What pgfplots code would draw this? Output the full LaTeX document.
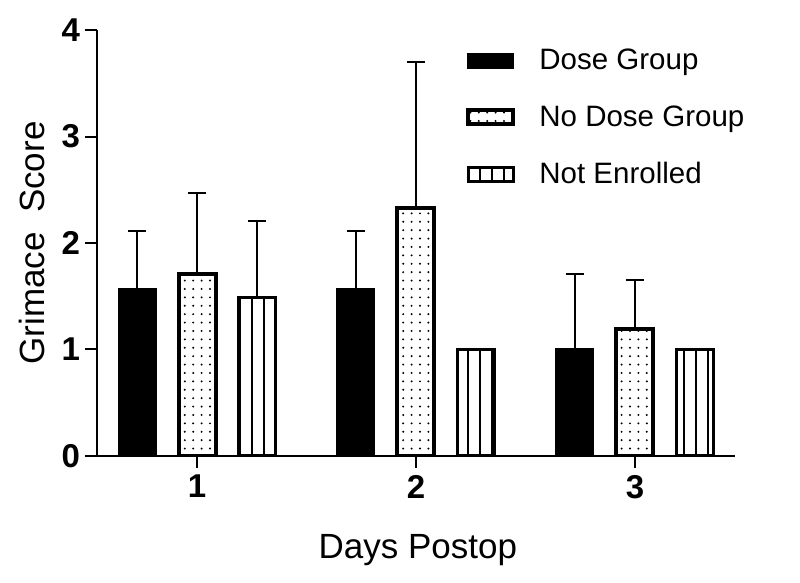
\documentclass[border=0pt]{standalone}
\usepackage{fontspec}
\setmainfont{Liberation Sans}
\usepackage{pgfplots}
\pgfplotsset{compat=1.18}
\usetikzlibrary{patterns.meta}
\begin{document}
\begin{tikzpicture}
\path[use as bounding box] (-48.5pt,-63.5pt) rectangle (351.5pt,228pt);
\begin{axis}[
  at={(0,0)}, anchor=south west,
  scale only axis, width=319pt, height=213pt,
  xmin=0.543, xmax=3.457, ymin=0, ymax=4,
  axis x line=bottom, axis y line=left,
  axis line style={-, line width=1pt},
  xtick={1,2,3}, ytick={0,1,2,3,4},
  tick align=outside, major tick length=6pt,
  tick style={line width=1pt, black},
  /pgf/number format/assume math mode=true,
  tick label style={font=\bfseries\fontsize{16.5}{19}\selectfont},
  yticklabel style={xshift=1pt},
  xlabel={Days Postop}, ylabel={Grimace\ \ Score},
  label style={font=\fontsize{17.5}{20}\selectfont},
  xlabel style={at={(axis description cs:0.503,-0.221)}, anchor=center},
  ylabel style={at={(axis description cs:-0.102,0.5)}, anchor=center},
  ybar, bar width=18.5pt,
  error bars/y dir=plus, error bars/y explicit,
  error bars/error bar style={line width=1pt, black},
  error bars/error mark options={rotate=90, mark size=4.5pt, line width=1pt, black},
  legend image code/.code={\draw[#1] (0pt,-3.5pt) rectangle (22.5pt,3.5pt);},
  legend style={at={(0.569,0.975)}, anchor=north west, draw=none, fill=none,
    font=\fontsize{14.75}{17}\selectfont, row sep=12.5pt,
    /tikz/every odd column/.append style={column sep=10pt}},
  legend cell align=left,
]
\addplot+[bar shift=-30pt, draw=black, fill=black, line width=1pt]
  coordinates {(1,1.57) +- (0,0.54) (2,1.57) +- (0,0.54) (3,1.00) +- (0,0.71)};
\addplot+[bar shift=0pt, draw=black, fill=white, line width=2pt,
  postaction={pattern={Dots[distance=4.2pt, radius=0.55pt]}, pattern color=black}]
  coordinates {(1,1.71) +- (0,0.76) (2,2.33) +- (0,1.37) (3,1.19) +- (0,0.46)};
\addplot+[bar shift=30pt, draw=black, fill=white, line width=1.5pt,
  postaction={pattern={Lines[angle=90, distance=6pt, line width=1.2pt]}, pattern color=black}]
  coordinates {(1,1.49) +- (0,0.72) (2,1.00) +- (0,0) (3,1.00) +- (0,0)};
\legend{Dose Group, No Dose Group, Not Enrolled}
\end{axis}
\end{tikzpicture}
\end{document}
